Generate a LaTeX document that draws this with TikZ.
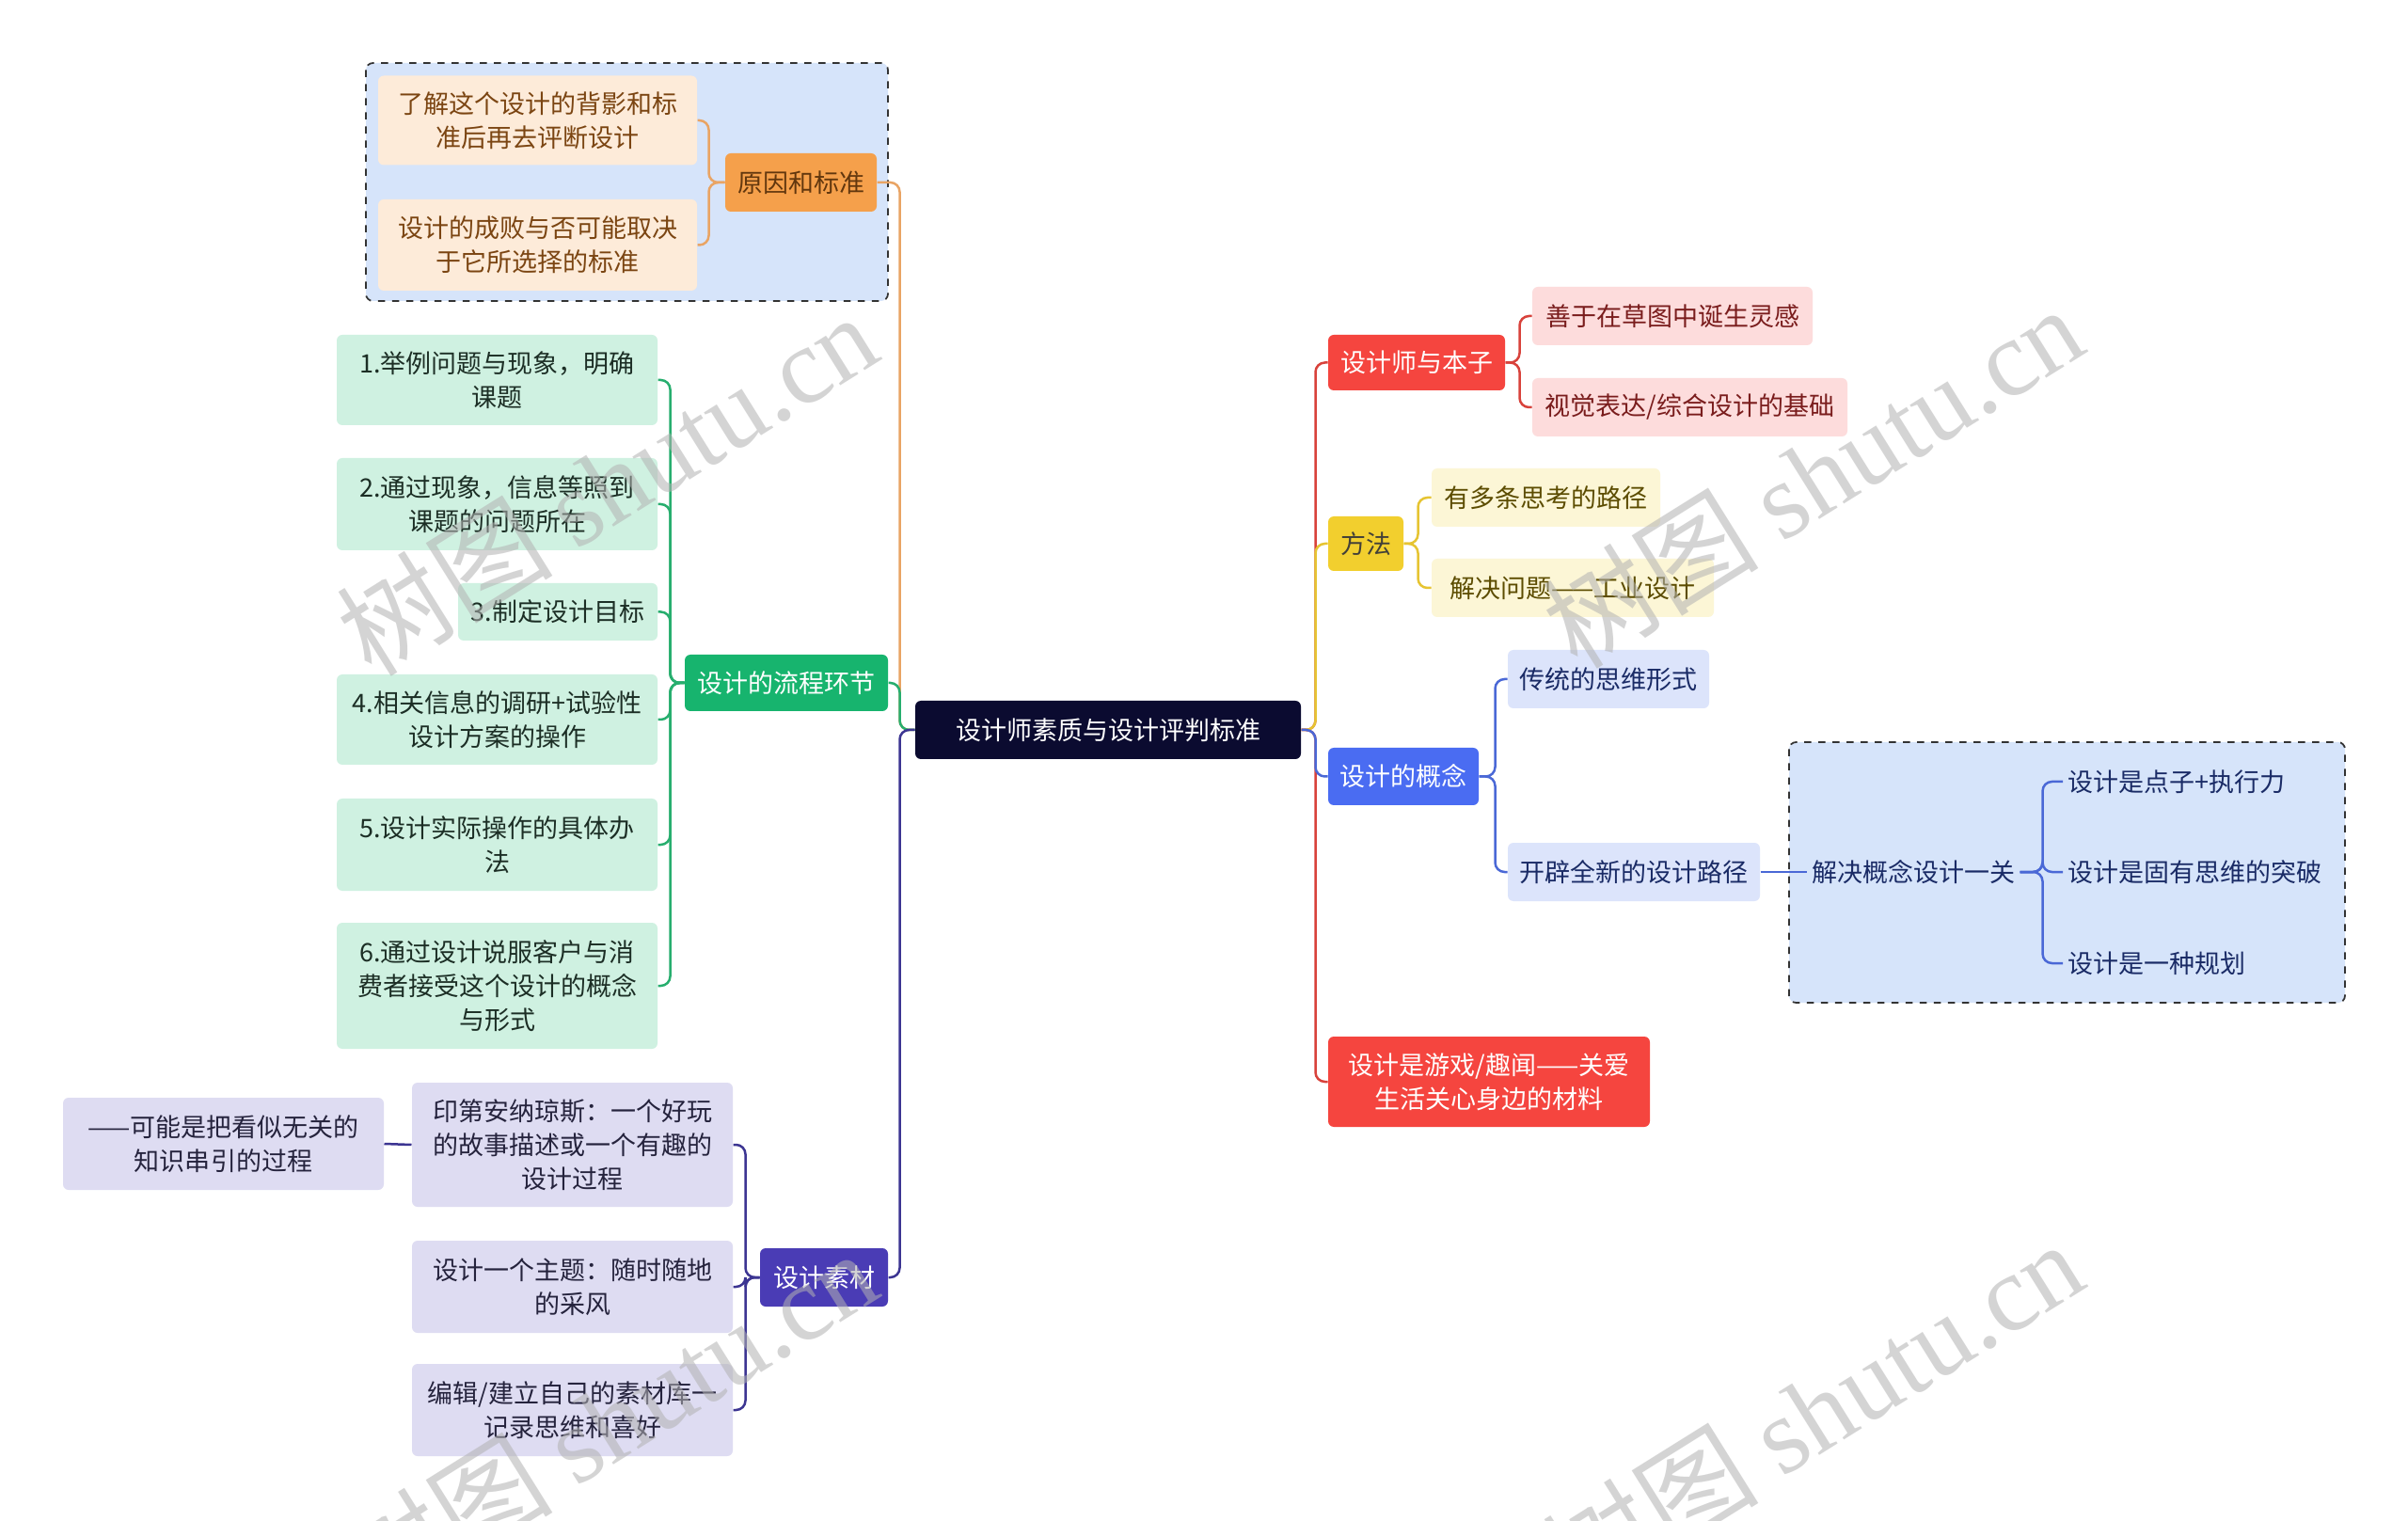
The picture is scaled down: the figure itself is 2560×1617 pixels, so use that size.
\documentclass[tikz,border=0pt]{standalone}
\usepackage{fontspec}
\setmainfont{Noto Sans CJK SC}
\newfontfamily\wmlatin{Liberation Serif}
\definecolor{rootc}{HTML}{0B0B30}
\definecolor{orgP}{HTML}{F5A04B}\definecolor{orgC}{HTML}{FDEBD9}\definecolor{orgT}{HTML}{7B4512}\definecolor{orgL}{HTML}{E9A464}
\definecolor{grnP}{HTML}{17B46E}\definecolor{grnC}{HTML}{CFF1E1}\definecolor{grnT}{HTML}{1C2E25}\definecolor{grnL}{HTML}{27AE6E}
\definecolor{purP}{HTML}{4A3CB5}\definecolor{purC}{HTML}{DEDCF2}\definecolor{purT}{HTML}{25233D}\definecolor{purL}{HTML}{3C3592}
\definecolor{redP}{HTML}{F5453F}\definecolor{redC}{HTML}{FDDCDC}\definecolor{redT}{HTML}{7A1D1D}\definecolor{redL}{HTML}{D8423B}
\definecolor{yelP}{HTML}{F2CF2E}\definecolor{yelC}{HTML}{FCF6D6}\definecolor{yelT}{HTML}{5C4C00}\definecolor{yelL}{HTML}{E6C432}
\definecolor{bluP}{HTML}{4A6CF2}\definecolor{bluC}{HTML}{DCE4FB}\definecolor{bluT}{HTML}{1A2B66}\definecolor{bluL}{HTML}{4A68D6}
\definecolor{grpC}{HTML}{D6E4FA}
\begin{document}
\begin{tikzpicture}[x=0.4pt,y=-0.4pt,
  box/.style={rounded corners=2.4pt, align=center, inner sep=0pt, font=\fontsize{10.8pt}{14.4pt}\selectfont},
  sz/.style 2 args={minimum width=#1*0.4pt, minimum height=#2*0.4pt},
  plain/.style={align=left, inner sep=2pt, font=\fontsize{10.8pt}{14.4pt}\selectfont, text=bluT},
  conn/.style={line width=1pt, rounded corners=4pt},
  grp/.style={fill=grpC, draw=black!80, dashed, line width=0.7pt, rounded corners=3pt},
  wm/.style={rotate=32, text=black!30, opacity=0.55, font=\fontsize{46pt}{46pt}\selectfont}
]
\useasboundingbox[fill=white] (0,0) rectangle (2560,1617);
% groups
\draw[grp] (389,67) rectangle (944,320);
\draw[grp] (1902,789) rectangle (2493,1066);
% root
\node[box, sz={410}{62}, fill=rootc, text=white] (root) at (1178,776) {设计师素质与设计评判标准};
% left: reasons
\node[box, sz={161}{62}, fill=orgP, text=orgT!80!black] (yy) at (851.5,194) {原因和标准};
\node[box, sz={339}{95}, fill=orgC, text=orgT] (yy1) at (571.5,128) {了解这个设计的背影和标\\准后再去评断设计};
\node[box, sz={339}{97}, fill=orgC, text=orgT] (yy2) at (571.5,260.5) {设计的成败与否可能取决\\于它所选择的标准};
% left: process
\node[box, sz={216}{60}, fill=grnP, text=white] (lc) at (836,726) {设计的流程环节};
\node[box, sz={341}{96}, fill=grnC, text=grnT] (g1) at (528.5,404) {1.举例问题与现象，明确\\课题};
\node[box, sz={341}{98}, fill=grnC, text=grnT] (g2) at (528.5,536) {2.通过现象，信息等照到\\课题的问题所在};
\node[box, sz={212}{61}, fill=grnC, text=grnT] (g3) at (593,650.5) {3.制定设计目标};
\node[box, sz={341}{96}, fill=grnC, text=grnT] (g4) at (528.5,765) {4.相关信息的调研+试验性\\设计方案的操作};
\node[box, sz={341}{98}, fill=grnC, text=grnT] (g5) at (528.5,898) {5.设计实际操作的具体办\\法};
\node[box, sz={341}{134}, fill=grnC, text=grnT] (g6) at (528.5,1048) {6.通过设计说服客户与消\\费者接受这个设计的概念\\与形式};
% left: material
\node[box, sz={136}{62}, fill=purP, text=white] (sc) at (876,1358) {设计素材};
\node[box, sz={341}{132}, fill=purC, text=purT] (p1) at (608.5,1217) {印第安纳琼斯：一个好玩\\的故事描述或一个有趣的\\设计过程};
\node[box, sz={341}{98}, fill=purC, text=purT] (p2) at (608.5,1368) {设计一个主题：随时随地\\的采风};
\node[box, sz={341}{98}, fill=purC, text=purT] (p3) at (608.5,1499) {编辑/建立自己的素材库一\\记录思维和喜好};
\node[box, sz={341}{98}, fill=purC, text=purT] (p0) at (237.5,1216) {——可能是把看似无关的\\知识串引的过程};
% right
\node[box, sz={188}{59}, fill=redP, text=white] (bz) at (1506,385.5) {设计师与本子};
\node[box, sz={298}{62}, fill=redC, text=redT] (r1) at (1778,336) {善于在草图中诞生灵感};
\node[box, sz={335}{62}, fill=redC, text=redT] (r2) at (1796.5,433) {视觉表达/综合设计的基础};
\node[box, sz={80}{58}, fill=yelP, text=black!85!yellow] (ff) at (1452,578) {方法};
\node[box, sz={243}{62}, fill=yelC, text=yelT] (y1) at (1643.5,529) {有多条思考的路径};
\node[box, sz={300}{62}, fill=yelC, text=yelT] (y2) at (1672,625) {解决问题——工业设计};
\node[box, sz={160}{61}, fill=bluP, text=white] (gn) at (1492,825.5) {设计的概念};
\node[box, sz={214}{62}, fill=bluC, text=bluT] (b1) at (1710,722) {传统的思维形式};
\node[box, sz={268}{62}, fill=bluC, text=bluT] (b2) at (1737,927) {开辟全新的设计路径};
\node[plain] (jj) at (2034,927) {解决概念设计一关};
\node[plain, anchor=west] (s1) at (2193,831) {设计是点子+执行力};
\node[plain, anchor=west] (s2) at (2193,927) {设计是固有思维的突破};
\node[plain, anchor=west] (s3) at (2193,1024) {设计是一种规划};
\node[box, sz={342}{96}, fill=redP, text=white] (yx) at (1583,1150) {设计是游戏/趣闻——关爱\\生活关心身边的材料};
% connectors
\begin{scope}[conn]
\draw[orgL] (root.west) -- ++(-16,0) |- (yy.east);
\draw[grnL] (root.west) -- ++(-16,0) |- (lc.east);
\draw[purL] (root.west) -- ++(-16,0) |- (sc.east);
\draw[orgL] (yy.west) -- ++(-17,0) |- (yy1.east);
\draw[orgL] (yy.west) -- ++(-17,0) |- (yy2.east);
\foreach \g in {g1,g2,g3,g4,g5,g6} \draw[grnL] (lc.west) -- ++(-15,0) |- (\g.east);
\foreach \p in {p1,p2,p3} \draw[purL] (sc.west) -- ++(-15,0) |- (\p.east);
\draw[purL] (p1.west) -- (p0.east);
\draw[redL] (root.east) -- ++(15,0) |- (bz.west);
\draw[redL] (root.east) -- ++(15,0) |- (yx.west);
\draw[yelL] (root.east) -- ++(15,0) |- (ff.west);
\draw[bluL] (root.east) -- ++(15,0) |- (gn.west);
\draw[redL] (bz.east) -- ++(15,0) |- (r1.west);
\draw[redL] (bz.east) -- ++(15,0) |- (r2.west);
\draw[yelL] (ff.east) -- ++(15,0) |- (y1.west);
\draw[yelL] (ff.east) -- ++(15,0) |- (y2.west);
\draw[bluL] (gn.east) -- ++(17,0) |- (b1.west);
\draw[bluL] (gn.east) -- ++(17,0) |- (b2.west);
\draw[bluL] (b2.east) -- (jj.west);
\foreach \s in {s1,s2,s3} \draw[bluL] (jj.east) -- ++(24,0) |- (\s.west);
\end{scope}
% watermarks
\node[wm] (wm1) at (645,514) {树图 {\wmlatin shutu.cn}};
\node[wm] (wm2) at (1927,506) {树图 {\wmlatin shutu.cn}};
\node[wm] (wm3) at (1927,1500) {树图 {\wmlatin shutu.cn}};
\node[wm] (wm4) at (645,1510) {树图 {\wmlatin shutu.cn}};
\end{tikzpicture}
\end{document}
